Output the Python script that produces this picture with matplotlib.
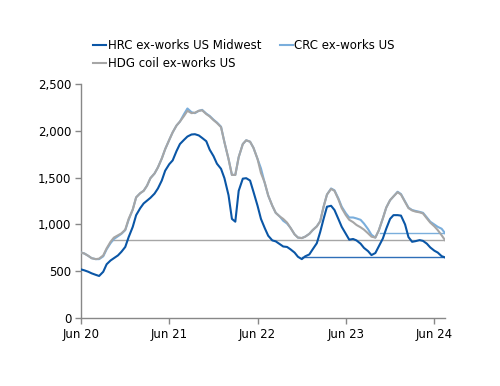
import numpy as np
import pandas as pd
import matplotlib
matplotlib.use("Agg")
import matplotlib.pyplot as plt
import matplotlib.dates as mdates

# half-monthly observations, Jun 2020 - mid Jul 2024 (USD/short ton)
dates = pd.date_range("2020-06-01", "2024-07-15", freq="SMS")

hrc = [520, 510, 495, 478, 462, 450, 495, 575, 615, 640,
       670, 708, 760, 865, 975, 1100, 1175, 1225, 1255, 1285,
       1330, 1385, 1470, 1575, 1645, 1685, 1785, 1860, 1905, 1940,
       1962, 1965, 1952, 1925, 1890, 1800, 1730, 1650, 1595, 1495,
       1313, 1060, 1030, 1360, 1490, 1495, 1470, 1350, 1200, 1060,
       960, 880, 830, 820, 790, 765, 760, 735, 700, 655,
       630, 660, 680, 735, 800, 920, 1060, 1190, 1200, 1155,
       1060, 975, 900, 838, 845, 830, 795, 750, 715, 673,
       695, 765, 850, 955, 1060, 1100, 1100, 1095, 1000, 865,
       815, 822, 833, 825, 795, 755, 720, 700, 662, 648]

crc = [700, 690, 665, 640, 630, 630, 660, 735, 800, 845,
       875, 900, 940, 1050, 1160, 1290, 1335, 1360, 1415, 1495,
       1545, 1610, 1705, 1805, 1905, 1985, 2058, 2100, 2180, 2240,
       2200, 2190, 2215, 2225, 2185, 2160, 2120, 2090, 2045, 1880,
       1700, 1530, 1530, 1720, 1860, 1900, 1885, 1820, 1700, 1600,
       1440, 1310, 1200, 1125, 1085, 1040, 1010, 965, 895, 860,
       855, 870, 900, 940, 980, 1035, 1190, 1320, 1385, 1365,
       1280, 1190, 1120, 1075, 1075, 1065, 1050, 1010, 950, 890,
       860, 935, 1065, 1180, 1260, 1300, 1350, 1325, 1245, 1180,
       1155, 1145, 1135, 1125, 1075, 1030, 1000, 975, 955, 908]

hdg = [700, 690, 665, 640, 630, 635, 670, 745, 815, 860,
       885, 905, 945, 1060, 1160, 1290, 1335, 1360, 1415, 1495,
       1545, 1610, 1705, 1805, 1905, 1985, 2058, 2100, 2160, 2215,
       2190, 2195, 2215, 2220, 2180, 2155, 2115, 2085, 2040, 1880,
       1700, 1530, 1530, 1720, 1860, 1900, 1885, 1820, 1700, 1550,
       1445, 1310, 1200, 1125, 1085, 1060, 1020, 965, 895, 860,
       855, 870, 900, 940, 980, 1035, 1190, 1320, 1380, 1360,
       1270, 1175, 1100, 1050, 1025, 995, 970, 945, 905, 870,
       860, 935, 1065, 1180, 1260, 1300, 1345, 1320, 1240, 1175,
       1150, 1138, 1130, 1118, 1065, 1020, 980, 940, 885, 833]

labels = ["HRC ex-works US Midwest", "CRC ex-works US", "HDG coil ex-works US"]
colors = ["#0a56a6", "#7aaedc", "#a6a6a6"]
ref_colors = ["#2f6fb8", "#7aaedc", "#a6a6a6"]
# current level marked back to the date it was last seen
ref_start = ["2022-12-01", "2023-10-20", "2020-10-10"]

plt.rcParams['font.family'] = ['DejaVu Sans']

fig = plt.figure(figsize=(5, 3.86), dpi=100)
ax = fig.add_axes([0.162, 0.176, 0.728, 0.606])

series = [hrc, crc, hdg]
# reference lines first, then the series (CRC under HDG under HRC)
for s, c, st in zip(series, ref_colors, ref_start):
    ax.plot([pd.Timestamp(st), dates[-1]], [s[-1], s[-1]], color=c, lw=1.0)

handles = {}
for s, c, lab, z in zip(series, colors, labels, [5, 3, 4]):
    handles[lab], = ax.plot(dates, s, color=c, lw=1.5, zorder=z)

ax.set_xlim(pd.Timestamp("2020-06-01"), pd.Timestamp("2024-07-15"))
ax.set_ylim(0, 2500)
ax.set_yticks(np.arange(0, 2501, 500))
ax.yaxis.set_major_formatter(matplotlib.ticker.FuncFormatter(lambda v, p: f"{int(v):,}"))
ax.xaxis.set_major_locator(mdates.MonthLocator(bymonth=6, bymonthday=1))
ax.xaxis.set_major_formatter(mdates.DateFormatter("%b %y"))

for side in ["top", "right"]:
    ax.spines[side].set_visible(False)
for side in ["left", "bottom"]:
    ax.spines[side].set_color("#888888")
    ax.spines[side].set_linewidth(1.0)
ax.tick_params(axis="both", colors="#888888", length=4, width=1,
               labelsize=8.5, labelcolor="black", pad=3)

order = ["HRC ex-works US Midwest", "HDG coil ex-works US", "CRC ex-works US"]
fig.legend([handles[k] for k in order], order, ncol=2, frameon=False,
           loc="upper left", bbox_to_anchor=(0.175, 0.915),
           fontsize=8.5, handlelength=1.1, handletextpad=0.1,
           columnspacing=1.6, labelspacing=0.45, borderpad=0)

fig.savefig("out.png", dpi=100)
